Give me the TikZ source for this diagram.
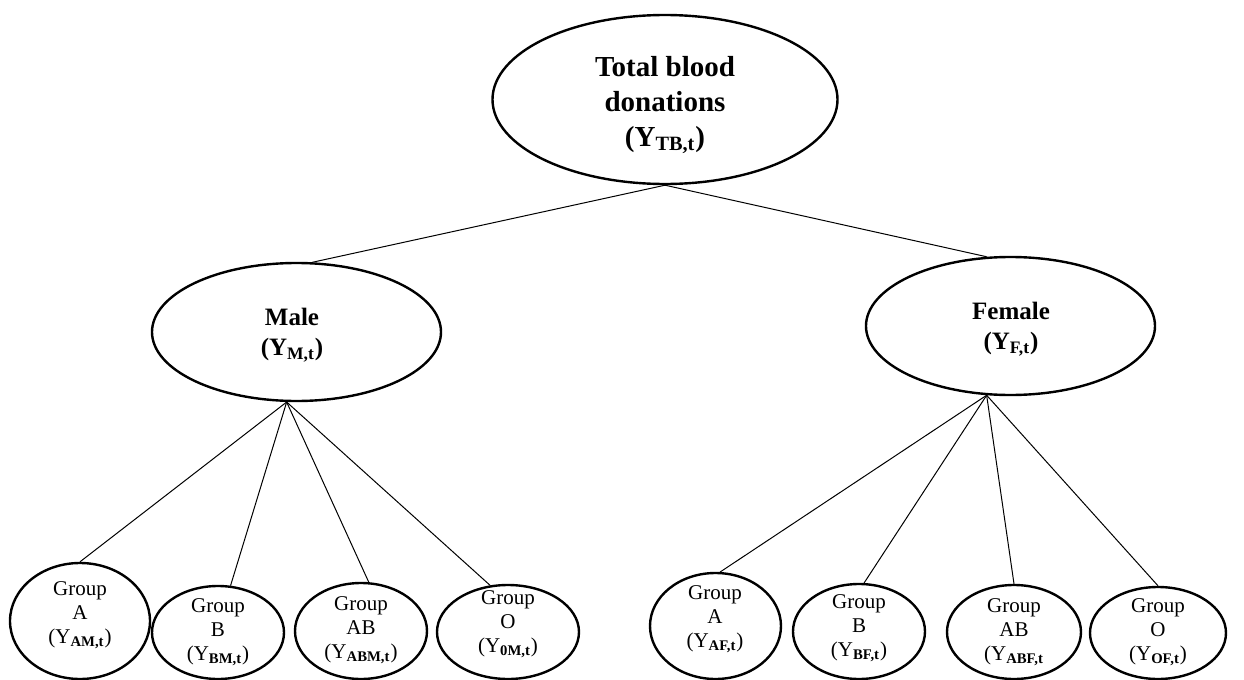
\documentclass[tikz,border=0pt]{standalone}
\usepackage{fontspec}
\setmainfont{Liberation Serif}
\usetikzlibrary{shapes.geometric}
\begin{document}
\begin{tikzpicture}[x=0.5pt,y=-0.5pt,
  oval/.style={ellipse, draw, line width=1.2pt, inner sep=0pt},
  conn/.style={line width=0.5pt},
  bigtxt/.style={align=center, inner sep=0pt, font=\fontsize{14.5}{17.5}\selectfont\bfseries},
  midtxt/.style={align=center, inner sep=0pt, font=\fontsize{12.5}{15}\selectfont\bfseries},
  smalltxt/.style={align=center, inner sep=0pt, font=\fontsize{10.5}{12}\selectfont}]
\useasboundingbox (0,0) rectangle (1244,680);
% top
\node[oval, minimum width=172.5pt, minimum height=84.5pt] (tot) at (665,99.5) {};
\node[bigtxt] (totT) at (665,105) {Total blood\\donations\\(Y\textsubscript{TB,t})};
% gender
\node[oval, minimum width=144.5pt, minimum height=69pt] (male) at (296.5,332) {};
\node[midtxt] (maleT) at (292,335) {Male\\(Y\textsubscript{M,t})};
\node[oval, minimum width=144.5pt, minimum height=69pt] (female) at (1010.5,326) {};
\node[midtxt] (femaleT) at (1011,329) {Female\\(Y\textsubscript{F,t})};
% male groups
\node[oval, minimum width=70pt, minimum height=58pt] (ma) at (80,621) {};
\node[smalltxt] (maT) at (80,615) {Group\\A\\(Y\textsubscript{\textbf{AM,t}})};
\node[oval, minimum width=66pt, minimum height=46.5pt] (mb) at (218,632.5) {};
\node[smalltxt] (mbT) at (218,632) {Group\\B\\(Y\textsubscript{\textbf{BM,t}})};
\node[oval, minimum width=66pt, minimum height=48pt] (mab) at (361,631) {};
\node[smalltxt] (mabT) at (361,630) {Group\\AB\\(Y\textsubscript{\textbf{ABM,t}})};
\node[oval, minimum width=71pt, minimum height=47pt] (mo) at (508,632) {};
\node[smalltxt] (moT) at (508,624) {Group\\O\\(Y\textsubscript{\textbf{0M,t}})};
% female groups
\node[oval, minimum width=65.5pt, minimum height=53pt] (fa) at (715.5,626) {};
\node[smalltxt] (faT) at (715,619) {Group\\A\\(Y\textsubscript{\textbf{AF,t}})};
\node[oval, minimum width=66pt, minimum height=47.5pt] (fb) at (859,631.5) {};
\node[smalltxt] (fbT) at (859,628) {Group\\B\\(Y\textsubscript{\textbf{BF,t}})};
\node[oval, minimum width=67pt, minimum height=47pt] (fab) at (1014,632) {};
\node[smalltxt] (fabT) at (1014,632) {Group\\AB\\(Y\textsubscript{\textbf{ABF,t}}};
\node[oval, minimum width=68pt, minimum height=46pt] (fo) at (1158,633) {};
\node[smalltxt] (foT) at (1158,632) {Group\\O\\(Y\textsubscript{\textbf{OF,t}})};
% connectors
\draw[conn] (tot.south) -- (male.77);
\draw[conn] (tot.south) -- (female.109);
\draw[conn] (male.-98) -- (ma.north);
\draw[conn] (male.-98) -- (mb.75);
\draw[conn] (male.-98) -- (mab.81);
\draw[conn] (male.-98) -- (mo.111);
\draw[conn] (female.-109) -- (fa.85);
\draw[conn] (female.-109) -- (fb.84);
\draw[conn] (female.-109) -- (fab.north);
\draw[conn] (female.-109) -- (fo.north);
\end{tikzpicture}
\end{document}
